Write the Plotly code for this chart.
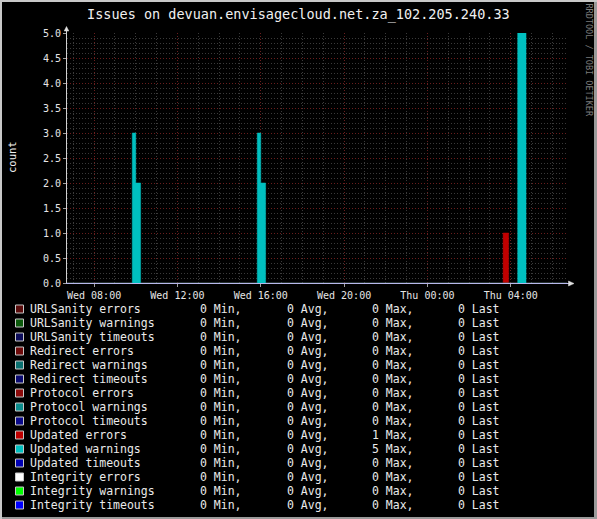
import plotly.graph_objects as go

W, H = 597, 519


def px(x):
    return x / W


def py(y):
    return 1 - y / H


# ---------------- data ----------------
title_text = "Issues on devuan.envisagecloud.net.za_102.205.240.33"
y_label = "count"
watermark = "RRDTOOL / TOBI OETIKER"

x_start = "2024-01-03 06:42"
x_end = "2024-01-04 06:42"

# Updated warnings (change points of a step series)
uw_times = [x_start, "2024-01-03 09:50", "2024-01-03 10:00", "2024-01-03 10:14",
            "2024-01-03 15:50", "2024-01-03 16:00", "2024-01-03 16:14",
            "2024-01-04 04:20", "2024-01-04 04:44", x_end]
uw_values = [0, 3, 2, 0, 3, 2, 0, 5, 0, 0]

# Updated errors
ue_times = [x_start, "2024-01-04 03:38", "2024-01-04 03:54", x_end]
ue_values = [0, 1, 0, 0]

series_names = [
    "URLSanity errors", "URLSanity warnings", "URLSanity timeouts",
    "Redirect errors", "Redirect warnings", "Redirect timeouts",
    "Protocol errors", "Protocol warnings", "Protocol timeouts",
    "Updated errors", "Updated warnings", "Updated timeouts",
    "Integrity errors", "Integrity warnings", "Integrity timeouts",
]
series_colors = [
    "#5a0c0c", "#0c5a0c", "#0c0c5a",
    "#6e0a0a", "#0a7070", "#0a0a70",
    "#8c0a0a", "#0a8c8c", "#0a0a8c",
    "#c00000", "#00c0c0", "#0000b4",
    "#ffffff", "#00ff00", "#0000ff",
]
stat_min = [0, 0, 0, 0, 0, 0, 0, 0, 0, 0, 0, 0, 0, 0, 0]
stat_avg = [0, 0, 0, 0, 0, 0, 0, 0, 0, 0, 0, 0, 0, 0, 0]
stat_max = [0, 0, 0, 0, 0, 0, 0, 0, 0, 1, 5, 0, 0, 0, 0]
stat_last = [0, 0, 0, 0, 0, 0, 0, 0, 0, 0, 0, 0, 0, 0, 0]

# ---------------- figure ----------------
FONT = "DejaVu Sans Mono"
fig = go.Figure()

fig.add_trace(go.Scatter(
    x=ue_times, y=ue_values, mode="lines", line_shape="hv",
    line=dict(color="#c00000", width=0.5), fill="tozeroy", fillcolor="#c00000",
    showlegend=False, hoverinfo="skip"))
fig.add_trace(go.Scatter(
    x=uw_times, y=uw_values, mode="lines", line_shape="hv",
    line=dict(color="#00c0c0", width=0.5), fill="tozeroy", fillcolor="#00c0c0",
    showlegend=False, hoverinfo="skip"))

MAJOR = "#6a1e1e"
MINOR = "#3a3a3a"
DASH = "1px,2px"

fig.update_layout(
    width=W, height=H, autosize=False,
    margin=dict(l=0, r=0, t=0, b=0, pad=0, autoexpand=False),
    paper_bgcolor="#000000", plot_bgcolor="#000000",
    showlegend=False,
    xaxis=dict(
        type="date", range=[x_start, x_end], domain=[px(67), px(567)],
        tickformat="%a %H:%M", dtick=4 * 3600000, tick0="2024-01-03 08:00",
        showgrid=True, gridcolor=MAJOR, griddash=DASH, gridwidth=1,
        minor=dict(dtick=3600000, tick0="2024-01-03 08:00", showgrid=True,
                   gridcolor=MINOR, griddash=DASH, gridwidth=1),
        showline=False, zeroline=False, automargin=False,
        ticks="outside", ticklen=3, tickcolor="#a0a0a0",
        tickfont=dict(family=FONT, size=10, color="#e6e6e6"),
        fixedrange=True,
    ),
    yaxis=dict(
        range=[0, 5], domain=[py(283), py(33)],
        dtick=0.5, tick0=0, tickformat=".1f",
        showgrid=True, gridcolor=MAJOR, griddash=DASH, gridwidth=1,
        minor=dict(dtick=0.1, tick0=0, showgrid=True,
                   gridcolor=MINOR, griddash=DASH, gridwidth=1),
        showline=False, zeroline=False, automargin=False,
        ticks="outside", ticklen=3, tickcolor="#a0a0a0",
        tickfont=dict(family=FONT, size=10, color="#e6e6e6"),
        fixedrange=True,
    ),
)

shapes = []
# frame
shapes.append(dict(type="rect", xref="paper", yref="paper", x0=0, x1=1, y0=py(2), y1=1,
                   fillcolor="#c8c8c8", line=dict(width=0), layer="above"))
shapes.append(dict(type="rect", xref="paper", yref="paper", x0=0, x1=px(2), y0=0, y1=1,
                   fillcolor="#c8c8c8", line=dict(width=0), layer="above"))
shapes.append(dict(type="rect", xref="paper", yref="paper", x0=px(594), x1=1, y0=0, y1=py(2),
                   fillcolor="#9a9a9a", line=dict(width=0), layer="above"))
shapes.append(dict(type="rect", xref="paper", yref="paper", x0=px(2), x1=1, y0=0, y1=py(517),
                   fillcolor="#9a9a9a", line=dict(width=0), layer="above"))
# axes lines + arrows
shapes.append(dict(type="line", xref="paper", yref="paper", x0=px(66.5), x1=px(66.5),
                   y0=py(283.5), y1=py(30), line=dict(color="#d0d0d0", width=1), layer="above"))
shapes.append(dict(type="path", xref="paper", yref="paper",
                   path=f"M {px(64.2)} {py(31)} L {px(68.8)} {py(31)} L {px(66.5)} {py(26.5)} Z",
                   fillcolor="#e0e0e0", line=dict(color="#e0e0e0", width=0.5), layer="above"))
shapes.append(dict(type="line", xref="paper", yref="paper", x0=px(66), x1=px(569),
                   y0=py(283.5), y1=py(283.5), line=dict(color="#b8b8ec", width=1), layer="above"))
shapes.append(dict(type="path", xref="paper", yref="paper",
                   path=f"M {px(568.5)} {py(281)} L {px(568.5)} {py(286)} L {px(574)} {py(283.5)} Z",
                   fillcolor="#e0e0e0", line=dict(color="#e0e0e0", width=0.5), layer="above"))

annotations = []
annotations.append(dict(text=title_text, xref="paper", yref="paper", x=px(298), y=py(14),
                        xanchor="center", yanchor="middle", showarrow=False,
                        font=dict(family=FONT, size=13.5, color="#f0f0f0")))
annotations.append(dict(text=y_label, xref="paper", yref="paper", x=px(12), y=py(157),
                        xanchor="center", yanchor="middle", showarrow=False, textangle=-90,
                        font=dict(family=FONT, size=10.5, color="#f0f0f0")))
annotations.append(dict(text=watermark, xref="paper", yref="paper", x=px(588.5), y=py(60),
                        xanchor="center", yanchor="middle", showarrow=False, textangle=90,
                        font=dict(family=FONT, size=8.5, color="#7c7c7c")))

row_y0 = 309
row_dy = 14
cols = [(200.3, "Min,", stat_min), (286.6, "Avg,", stat_avg),
        (372.0, "Max,", stat_max), (458.0, "Last", stat_last)]
for i, (name, col) in enumerate(zip(series_names, series_colors)):
    yc = row_y0 + row_dy * i
    shapes.append(dict(type="rect", xref="paper", yref="paper",
                       x0=px(15.5), x1=px(23.5), y0=py(yc + 4), y1=py(yc - 4),
                       fillcolor=col, line=dict(color="#c8c8c8", width=1), layer="above"))
    annotations.append(dict(text=name, xref="paper", yref="paper", x=px(30), y=py(yc),
                            xanchor="left", yanchor="middle", showarrow=False,
                            borderpad=0, borderwidth=0,
                            font=dict(family=FONT, size=11.5, color="#eaeaea")))
    for cx, suffix, vals in cols:
        annotations.append(dict(text=f"{vals[i]:.0f} {suffix}", xref="paper", yref="paper",
                                x=px(cx), y=py(yc), xanchor="left", yanchor="middle",
                                showarrow=False, borderpad=0, borderwidth=0,
                                font=dict(family=FONT, size=11.5, color="#eaeaea")))

fig.update_layout(shapes=shapes, annotations=annotations)
fig.write_html(
    "out.html",
    config={"displayModeBar": False, "staticPlot": True},
    post_script="document.body.style.margin='0';document.body.style.overflow='hidden';",
)
